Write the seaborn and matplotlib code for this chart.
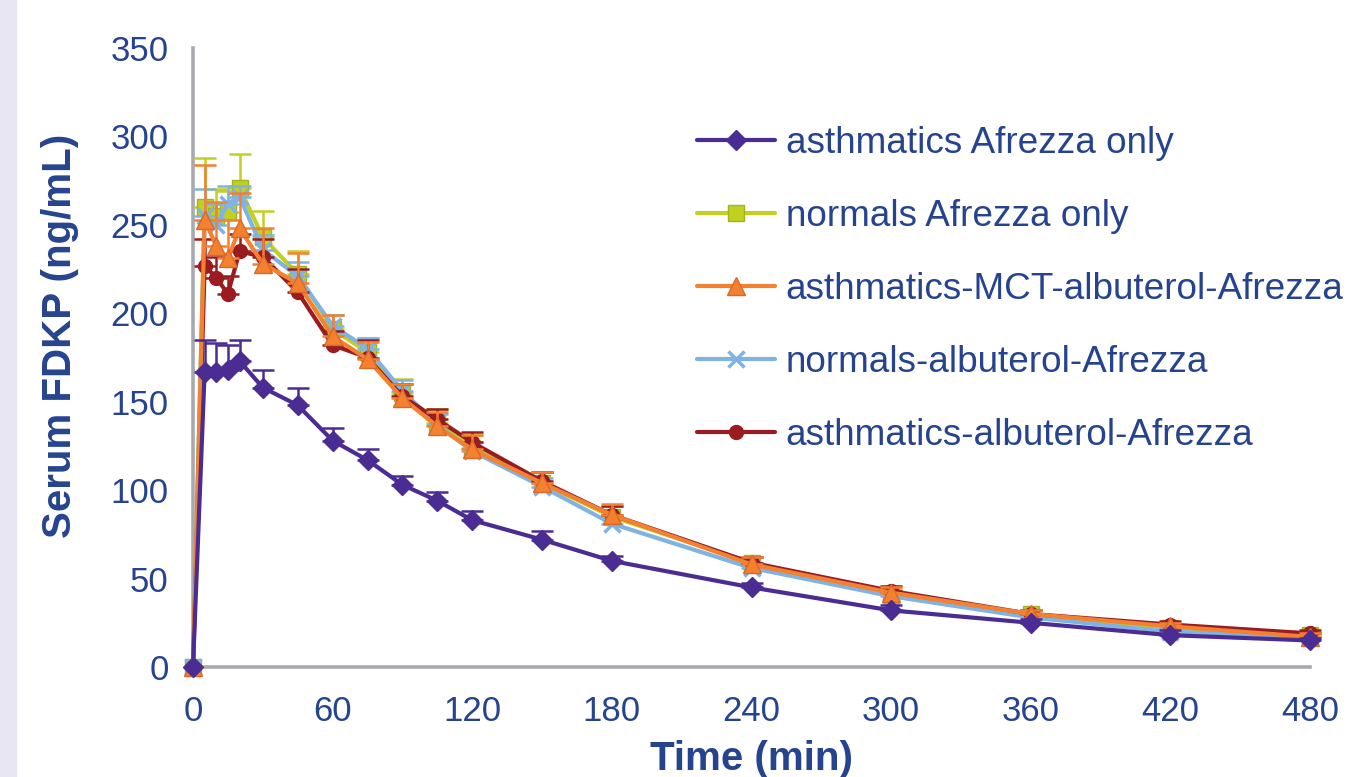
import numpy as np
import pandas as pd
import matplotlib
matplotlib.use("Agg")
import matplotlib.pyplot as plt
from matplotlib.patches import Rectangle
import seaborn as sns

# time points (min)
time = [0, 5, 10, 15, 20, 30, 45, 60, 75, 90, 105, 120, 150, 180, 240, 300, 360, 420, 480]

# mean serum FDKP (ng/mL) per group
asth_only = [0, 167, 167, 168, 173, 158, 148, 128, 117, 103, 94, 83, 72, 60, 45, 32, 25, 18, 15]
normals_only = [0, 260, 255, 257, 271, 243, 222, 191, 178, 155, 138, 124, 104, 85, 59, 41, 30, 22, 18]
asth_mct = [0, 253, 238, 231, 248, 228, 217, 187, 174, 152, 136, 123, 104, 86, 58, 42, 30, 23, 17]
normals_alb = [0, 255, 250, 262, 266, 236, 221, 193, 180, 156, 137, 122, 102, 81, 56, 40, 28, 20, 17]
asth_alb = [0, 227, 220, 211, 235, 232, 212, 182, 175, 153, 140, 127, 105, 86, 59, 43, 30, 24, 19]

# upper error bars (SE)
asth_only_err = [0, 18, 16, 14, 12, 10, 10, 7, 6, 5, 5, 5, 5, 3, 2.5, 3, 2, 3, 1.5]
normals_only_err = [0, 28, 15, 12, 19, 15, 13, 8, 8, 8, 8, 7, 6, 6, 3, 3, 2, 2, 2]
asth_mct_err = [0, 31, 25, 22, 20, 20, 17, 12, 10, 8, 8, 8, 6, 6, 4, 3, 2, 2, 2]
normals_alb_err = [0, 15, 12, 10, 6, 8, 8, 6, 6, 6, 6, 5, 5, 4, 3, 2, 2, 2, 2]
asth_alb_err = [0, 15, 12, 10, 10, 10, 13, 8, 10, 7, 6, 6, 5, 5, 3, 3, 2, 2, 2]

labels = ["asthmatics Afrezza only", "normals Afrezza only",
          "asthmatics-MCT-albuterol-Afrezza", "normals-albuterol-Afrezza",
          "asthmatics-albuterol-Afrezza"]

series = [asth_only, normals_only, asth_mct, normals_alb, asth_alb]
errors = [asth_only_err, normals_only_err, asth_mct_err, normals_alb_err, asth_alb_err]

colors = ["#4B2C92", "#C2D021", "#F4812F", "#7EB3E3", "#9A1B20"]
edges = ["#4B2C92", "#A3B31C", "#D9692A", "#7EB3E3", "#9A1B20"]
markers = ["D", "s", "^", "x", "o"]
msizes = [10, 12, 13, 12, 10]
zorders = [3.5, 2.1, 3.0, 2.3, 2.6]

text_blue = "#26438F"
axis_gray = "#A7A9AF"

sns.set_style("white")
plt.rcParams["font.family"] = ["Liberation Sans", "DejaVu Sans"]

fig = plt.figure(figsize=(13.53, 7.77), dpi=100)
ax = fig.add_axes([193 / 1353, 1 - 667 / 777, (1310 - 193) / 1353, (667 - 48) / 777])

# left lavender strip of the original slide
fig.add_artist(Rectangle((0, 0), 16 / 1353, 1, transform=fig.transFigure,
                         color="#E8E6F3", zorder=0))

t = np.array(time)
for vals, err, lab, c, ec, m, ms, z in zip(series, errors, labels, colors,
                                          edges, markers, msizes, zorders):
    vals = np.array(vals, dtype=float)
    err = np.array(err, dtype=float)
    mask = t > 0
    ax.errorbar(t[mask], vals[mask], yerr=[np.zeros(mask.sum()), err[mask]],
                fmt="none", ecolor=c, elinewidth=1.8, capsize=8, capthick=1.8,
                zorder=z - 0.05, clip_on=False)
    sns.lineplot(x=t, y=vals, ax=ax, color=c, marker=m, markersize=ms,
                 markeredgecolor=ec, markeredgewidth=2.5 if m == "x" else 1,
                 linewidth=3, label=lab, zorder=z, errorbar=None,
                 clip_on=False, legend=False)

ax.set_xlim(0, 480)
ax.set_ylim(0, 350)
ax.set_xticks(range(0, 481, 60))
ax.set_yticks(range(0, 351, 50))

for side in ["top", "right"]:
    ax.spines[side].set_visible(False)
for side in ["left", "bottom"]:
    ax.spines[side].set_color(axis_gray)
    ax.spines[side].set_linewidth(2.6)
    ax.spines[side].set_zorder(1)

ax.tick_params(axis="both", direction="out", length=9.5, width=2,
               color=axis_gray, labelsize=25, labelcolor=text_blue)
ax.tick_params(axis="y", pad=8)
ax.tick_params(axis="x", pad=11)

ax.set_xlabel("Time (min)", fontsize=29, fontweight="bold", color=text_blue)
ax.set_ylabel("Serum FDKP (ng/mL)", fontsize=29, fontweight="bold", color=text_blue)
ax.xaxis.set_label_coords(0.5, -0.118)
ax.yaxis.set_label_coords(-0.102, 0.535)

handles = [l for l in ax.get_lines() if not l.get_label().startswith("_")]
leg = ax.legend(handles, [h.get_label() for h in handles],
                loc="upper left", bbox_to_anchor=(697 / 1353, 1 - 126 / 777),
                bbox_transform=fig.transFigure, frameon=False, fontsize=26.6,
                handlelength=2.1, handletextpad=0.3, labelspacing=1.03,
                borderpad=0, borderaxespad=0)
for txt in leg.get_texts():
    txt.set_color(text_blue)

fig.savefig("out.png", dpi=100)
